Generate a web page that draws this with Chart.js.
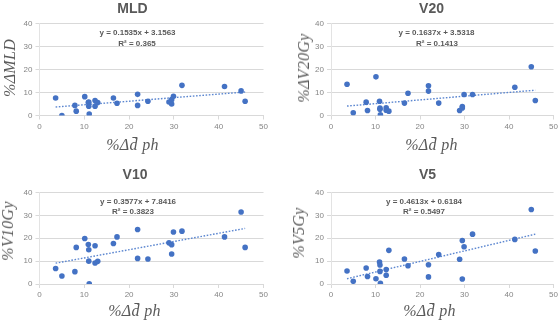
<!DOCTYPE html>
<html>
<head>
<meta charset="utf-8">
<script src="https://cdn.jsdelivr.net/npm/chart.js@4.4.1/dist/chart.umd.min.js"></script>
<style>
    body { margin: 0; background: #fff; }
    #wrap { position: relative; width: 560px; height: 321px; overflow: hidden; }
    canvas { position: absolute; }
    .txt { position: absolute; transform: translate(-50%, -50%); white-space: nowrap; color: #595959; }
    .title { font: bold 14px "Liberation Sans", Arial, sans-serif; }
    .eq { font: bold 8px "Liberation Sans", Arial, sans-serif; }
    .axlab { font: italic 16px "Liberation Serif", serif; color: #5a5a5a; letter-spacing: 0.3px; }
    .ylab { transform: translate(-50%, -50%) rotate(-90deg); }
</style>
</head>
<body>
<div id="wrap"></div>
<script>
// shared x values (%Δd ph)
const xVals = [3.6, 5.0, 7.9, 8.2, 10.1, 10.9, 11.0, 11.0, 11.1, 12.4, 12.4, 13.0, 16.5, 17.3, 21.9, 21.9, 24.2, 28.9, 29.5, 29.5, 29.9, 31.8, 41.3, 45.0, 45.9];

const mldVals = [7.6, 0.0, 4.4, 1.9, 8.2, 5.6, 4.0, 5.8, 0.6, 6.5, 4.0, 5.6, 7.6, 5.3, 9.2, 4.4, 6.2, 5.9, 6.9, 5.0, 8.4, 13.1, 12.6, 10.7, 6.2];
const v20Vals = [13.6, 1.2, 5.8, 2.2, 16.8, 6.2, 3.2, 2.7, 0.3, 3.3, 2.3, 1.9, 5.4, 9.7, 12.9, 10.6, 5.4, 2.2, 3.9, 3.3, 9.1, 9.1, 12.3, 21.2, 6.5];
const v10Vals = [6.8, 3.5, 5.4, 16.0, 19.9, 17.3, 15.0, 10.0, 0.1, 16.7, 9.2, 9.9, 17.7, 20.6, 23.8, 11.2, 10.9, 18.0, 17.2, 13.1, 22.7, 23.1, 20.6, 31.5, 16.0];
const v5Vals = [5.7, 1.2, 7.0, 3.3, 2.3, 9.6, 8.3, 5.5, 0.3, 6.3, 3.8, 14.7, 10.9, 8.0, 8.4, 3.1, 12.9, 10.8, 19.0, 2.2, 16.3, 21.8, 19.5, 32.6, 14.4];

// trendline ends
const trendX = [3.6, 45.9];
const mldTrend = [3.7, 10.2];
const v20Trend = [4.1, 11.0];
const v10Trend = [9.1, 24.3];
const v5Trend = [2.3, 21.8];

const titles = ['MLD', 'V20', 'V10', 'V5'];
const yTitles = ['%ΔMLD', '%ΔV20Gy', '%V10Gy', '%V5Gy'];
const xTitle = '%Δd\u0304 ph';
const equations = ['y = 0.1535x + 3.1563', 'y = 0.1637x + 3.5318', 'y = 0.3577x + 7.8416', 'y = 0.4613x + 0.6184'];
const r2Labels = ['R² = 0.365', 'R² = 0.1413', 'R² = 0.3823', 'R² = 0.5497'];

const xTicks = [0, 10, 20, 30, 40, 50];
const yTicks = [0, 10, 20, 30, 40];

const seriesList = [mldVals, v20Vals, v10Vals, v5Vals];
const trendList = [mldTrend, v20Trend, v10Trend, v5Trend];

// panel boxes: canvas position and plot area inside it
const panels = [
    { left: 0,   top: 0,   w: 280, h: 160, pl: 39.5, pr: 263.5, pt: 23.5, pb: 115.5,
      title: [132.5, 8], eq: [137.5, 32], r2: [137, 43], ylab: [9.5, 68], xlab: [132.5, 145] },
    { left: 280, top: 0,   w: 280, h: 160, pl: 51,   pr: 275.5, pt: 23.5, pb: 115.5,
      title: [431.5, 8], eq: [436.5, 32], r2: [437, 43], ylab: [303.5, 68], xlab: [431.5, 145] },
    { left: 0,   top: 160, w: 280, h: 161, pl: 39.5, pr: 263.5, pt: 32.5, pb: 124,
      title: [135, 174], eq: [138, 200.5], r2: [133, 211], ylab: [8, 231], xlab: [134.5, 311] },
    { left: 280, top: 160, w: 280, h: 161, pl: 51,   pr: 275.5, pt: 32.5, pb: 124,
      title: [427.5, 174], eq: [424, 200.5], r2: [424, 211], ylab: [299, 233], xlab: [429.5, 311] }
];

const wrap = document.getElementById('wrap');

function addText(cls, text, pos) {
    const d = document.createElement('div');
    d.className = 'txt ' + cls;
    d.textContent = text;
    d.style.left = pos[0] + 'px';
    d.style.top = pos[1] + 'px';
    wrap.appendChild(d);
}

const tickFont = { family: '"Liberation Sans", Arial, sans-serif', size: 8 };

panels.forEach((p, i) => {
    const c = document.createElement('canvas');
    c.width = p.w;
    c.height = p.h;
    c.style.left = p.left + 'px';
    c.style.top = p.top + 'px';
    wrap.appendChild(c);

    const pts = xVals.map((x, k) => ({ x: x, y: seriesList[i][k] }));
    const trend = trendX.map((x, k) => ({ x: x, y: trendList[i][k] }));

    new Chart(c.getContext('2d'), {
        type: 'scatter',
        data: {
            datasets: [
                {
                    data: pts,
                    backgroundColor: '#4472c4',
                    borderColor: '#4472c4',
                    pointRadius: 2.8,
                    borderWidth: 0
                },
                {
                    type: 'line',
                    data: trend,
                    borderColor: '#5b86d0',
                    borderWidth: 1.4,
                    borderDash: [1.6, 1.6],
                    pointRadius: 0,
                    fill: false
                }
            ]
        },
        options: {
            responsive: false,
            animation: false,
            events: [],
            layout: { padding: { left: 0, top: p.pt, right: p.w - p.pr, bottom: 0 } },
            plugins: { legend: { display: false }, tooltip: { enabled: false } },
            scales: {
                x: {
                    type: 'linear',
                    min: xTicks[0],
                    max: xTicks[xTicks.length - 1],
                    afterBuildTicks: s => { s.ticks = xTicks.map(v => ({ value: v })); },
                    ticks: { color: '#858585', font: tickFont, padding: 2 },
                    grid: { drawOnChartArea: false, color: '#d9d9d9', tickLength: 4 },
                    border: { color: '#d9d9d9' },
                    afterFit: s => { s.height = p.h - p.pb; }
                },
                y: {
                    min: yTicks[0],
                    max: yTicks[yTicks.length - 1],
                    afterBuildTicks: s => { s.ticks = yTicks.map(v => ({ value: v })); },
                    ticks: { color: '#858585', font: tickFont, padding: 3 },
                    grid: { color: '#d9d9d9', tickLength: 4 },
                    border: { color: '#e3e3e3' },
                    afterFit: s => { s.width = p.pl; }
                }
            }
        }
    });

    addText('title', titles[i], p.title);
    addText('eq', equations[i], p.eq);
    addText('eq', r2Labels[i], p.r2);
    addText('axlab ylab', yTitles[i], p.ylab);
    addText('axlab', xTitle, p.xlab);
});
</script>
</body>
</html>
